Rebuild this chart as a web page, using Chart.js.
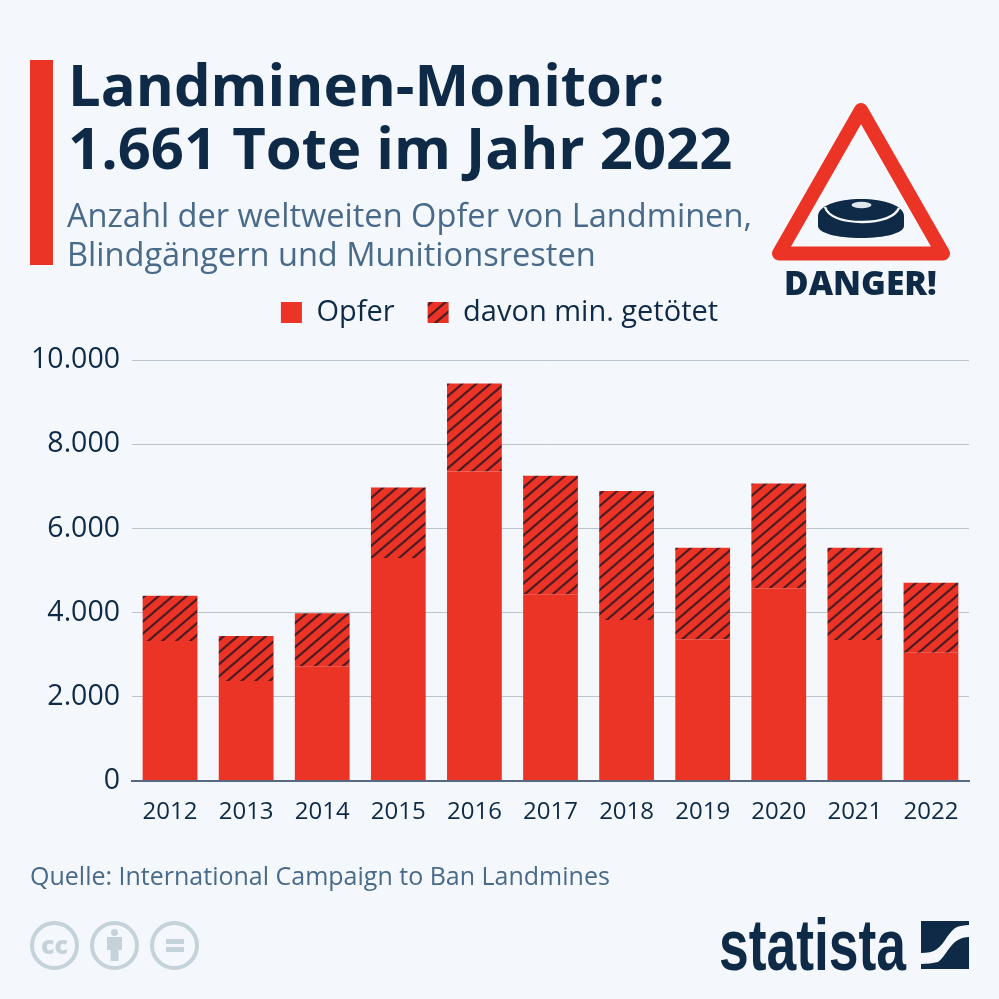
<!DOCTYPE html>
<html lang="de">
<head>
<meta charset="utf-8">
<script src="https://cdn.jsdelivr.net/npm/chart.js@4"></script>
<style>
  html, body { margin: 0; padding: 0; background: #f4f8fc; }
  #page { position: relative; width: 999px; height: 999px; overflow: hidden; font-family: "Open Sans", sans-serif; }
  #page > * { position: absolute; }
  #chart { left: 0; top: 0; }
  #bar { left: 30px; top: 60px; width: 23px; height: 205px; background: #ec3426; }
  #title { left: 68px; top: 52px; margin: 0; font-size: 58px; line-height: 63px; font-weight: 700; color: #0f2a47; white-space: nowrap; }
  #sub { left: 67px; top: 195px; font-size: 32.6px; line-height: 39px; color: #4a6a8a; white-space: nowrap; }
  #source { left: 30px; top: 859px; font-size: 25px; line-height: 32px; color: #4a6a8a; white-space: nowrap; }
  #danger { left: 784px; top: 262px; font-size: 33.6px; line-height: 40px; font-weight: 800; color: #0f2a47; white-space: nowrap; }
  #logo { left: 719px; top: 905px; font-family: "Liberation Sans", sans-serif; font-size: 72px; line-height: 80px; font-weight: 700; color: #0f2a47; transform: scaleX(0.742); transform-origin: left top; }
  svg { left: 0; top: 0; }
</style>
</head>
<body>
<div id="page">
  <canvas id="chart" width="999" height="999"></canvas>
  <svg width="999" height="999" viewBox="0 0 999 999">
    <!-- warning sign -->
    <path d="M861 110 L779 253.5 L943 253.5 Z" fill="none" stroke="#ec3426" stroke-width="14" stroke-linejoin="round"/>
    <path d="M818 216 v10 c0 7 19 12 43 12 s43 -5 43 -12 v-10 c0 -10 -19 -17 -43 -17 s-43 7 -43 17 Z" fill="#0f2a47"/>
    <path d="M825 207 c3 10 18 15 37 15 s33 -5 37 -14" fill="none" stroke="#f4f8fc" stroke-width="2.4"/>
    <ellipse cx="861.500" cy="205" rx="10" ry="3.300" fill="#dfe6ee"/>
    <!-- licence icons -->
    <g fill="none" stroke="#c6d2da" stroke-width="4">
      <circle cx="54.500" cy="945.500" r="22.500"/>
      <circle cx="114.500" cy="945.500" r="22.500"/>
      <circle cx="174.500" cy="945.500" r="22.500"/>
    </g>
    <g fill="#c6d2da">
      <text x="54.500" y="954" text-anchor="middle" font-family="Open Sans" font-weight="800" font-size="25">cc</text>
      <circle cx="114.500" cy="932.500" r="3.500"/>
      <path d="M107 937 h15 v13 h-3.500 v11 h-8 v-11 h-3.500 Z"/>
      <rect x="166" y="939" width="18" height="5"/>
      <rect x="166" y="947" width="18" height="5"/>
    </g>
    <!-- logo mark -->
    <path d="M921 921 h48 v4 c-5 0 -9 1 -12 2 c-4 2 -7 6 -10 10 c-3 5 -6 9 -10 12 c-4 3 -10 4 -16 4 Z" fill="#0f2a47"/>
    <path d="M969 937 v32 h-48 v-5 c6 0 12 -1 17 -2 c4 -3 7 -8 10 -12 c3 -4 6 -8 10 -10 c3 -2 7 -3 11 -3 Z" fill="#0f2a47"/>
  </svg>
  <div id="bar"></div>
  <h1 id="title">Landminen-Monitor:<br>1.661 Tote im Jahr 2022</h1>
  <div id="sub">Anzahl der weltweiten Opfer von Landminen,<br>Blindgängern und Munitionsresten</div>
  <div id="danger">DANGER!</div>
  <div id="source">Quelle: International Campaign to Ban Landmines</div>
  <div id="logo">statista</div>
</div>
<script>
const years = ['2012', '2013', '2014', '2015', '2016', '2017', '2018', '2019', '2020', '2021', '2022'];
// lower part of each bar (victims minus those killed)
const opfer = [3330, 2380, 2730, 5300, 7350, 4440, 3830, 3370, 4580, 3350, 3050];
// upper hatched part
const getoetet = [1070, 1070, 1260, 1670, 2090, 2810, 3060, 2170, 2490, 2190, 1661];
const yTicks = [0, 2000, 4000, 6000, 8000, 10000];

const red = '#ec3426';
const navy = '#0f2a47';

function hatch() {
  const c = document.createElement('canvas');
  c.width = 14;
  c.height = 12;
  const g = c.getContext('2d');
  g.fillStyle = red;
  g.fillRect(0, 0, 14, 12);
  g.strokeStyle = '#4f1c22';
  g.lineWidth = 2.2;
  g.beginPath();
  g.moveTo(-14, 12); g.lineTo(14, -12);
  g.moveTo(0, 12); g.lineTo(14, 0);
  g.moveTo(14, 12); g.lineTo(28, 0);
  g.moveTo(-14, 24); g.lineTo(14, 0);
  g.moveTo(0, 24); g.lineTo(28, 0);
  g.stroke();
  return g.createPattern(c, 'repeat');
}

// the legend sits further above the plot than its padding allows
const legendGap = {
  id: 'legendGap',
  beforeInit(chart) {
    const fit = chart.legend.fit;
    chart.legend.fit = function () {
      fit.call(this);
      this.height += 23;
    };
  }
};

new Chart(document.getElementById('chart'), {
  type: 'bar',
  plugins: [legendGap],
  data: {
    labels: years,
    datasets: [
      { label: 'Opfer', data: opfer, backgroundColor: red, borderWidth: 0 },
      { label: 'davon min. getötet', data: getoetet, backgroundColor: hatch(), borderWidth: 0 }
    ]
  },
  options: {
    responsive: false,
    animation: false,
    devicePixelRatio: 1,
    barPercentage: 0.72,
    categoryPercentage: 1,
    layout: { padding: { top: 265, left: 30, right: 30, bottom: 163 } },
    plugins: {
      tooltip: { enabled: false },
      legend: {
        position: 'top',
        align: 'center',
        labels: {
          boxWidth: 21,
          boxHeight: 21,
          padding: 33,
          color: navy,
          font: { family: 'Open Sans', size: 29 }
        }
      }
    },
    scales: {
      x: {
        stacked: true,
        grid: { display: false },
        border: { display: true, color: '#56697f', width: 2, z: 1 },
        ticks: { color: navy, font: { family: 'Open Sans', size: 24 }, padding: 9, maxRotation: 0 }
      },
      y: {
        stacked: true,
        min: 0,
        max: 10000,
        afterBuildTicks: axis => { axis.ticks = yTicks.map(value => ({ value })); },
        afterFit: axis => { axis.width = 102; },
        grid: { color: '#b9c4ce', lineWidth: 1, drawTicks: false },
        border: { display: false },
        ticks: {
          color: navy,
          font: { family: 'Open Sans', size: 28.5 },
          padding: 12,
          callback: v => v === 0 ? '0' : String(v).replace(/(\d)(\d{3})$/, '$1.$2')
        }
      }
    }
  }
});
</script>
</body>
</html>
